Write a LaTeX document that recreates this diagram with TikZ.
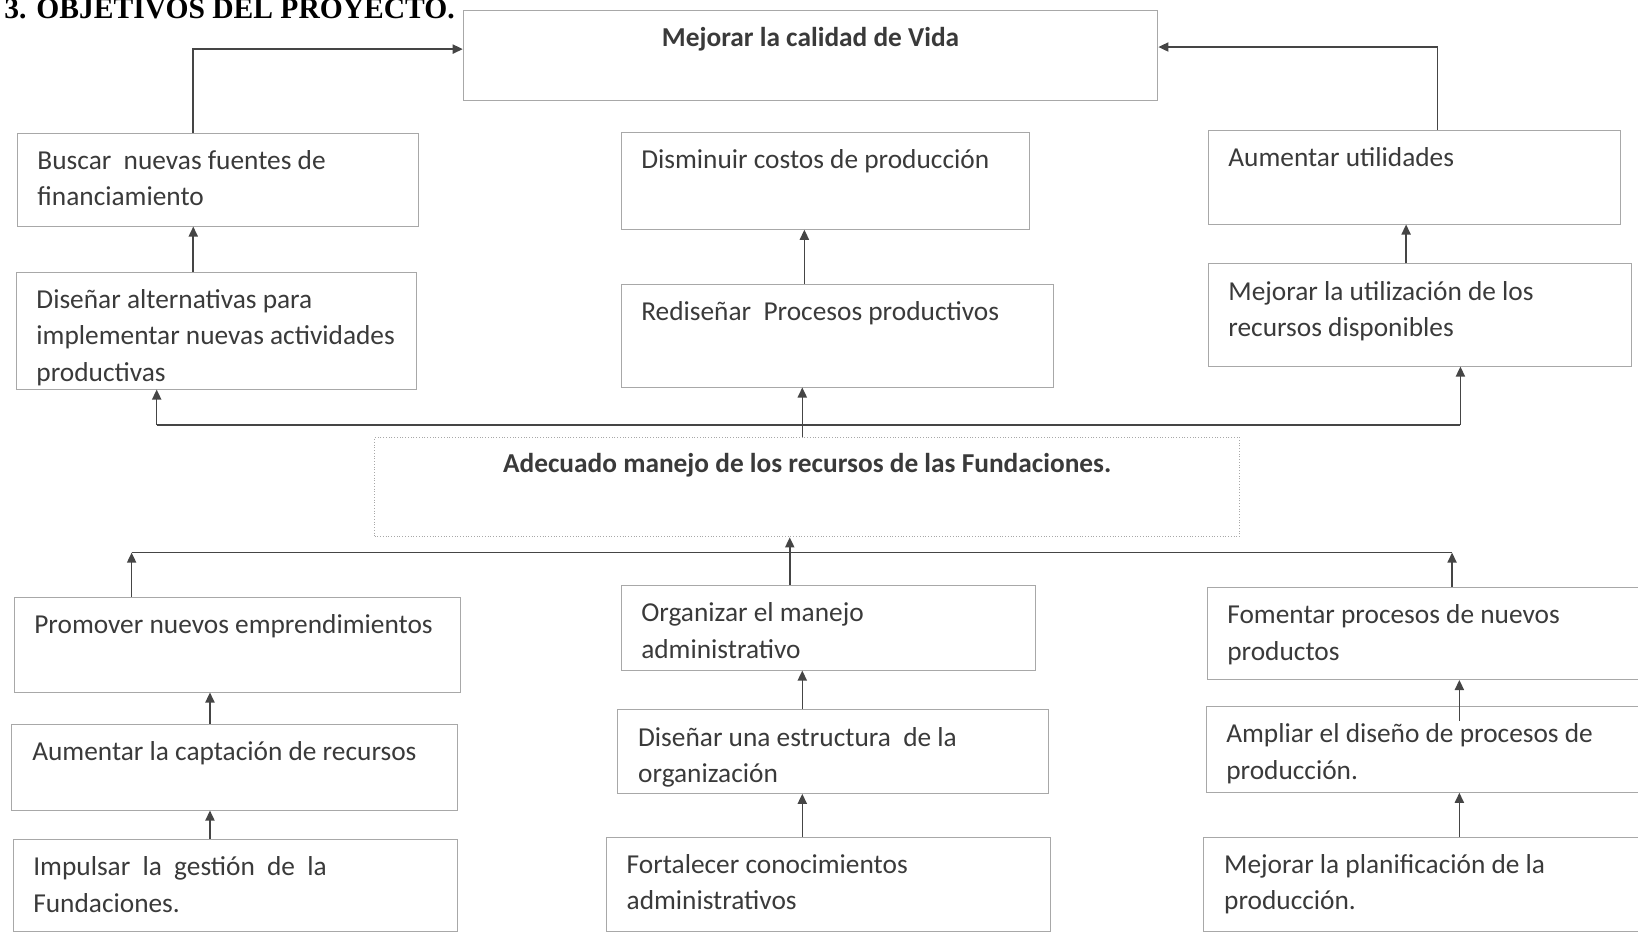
\documentclass[tikz,border=0pt]{standalone}
\usepackage{fontspec}
\setmainfont{Carlito}
\newfontfamily\titlefont{Liberation Serif}
\usetikzlibrary{arrows.meta, calc}
\definecolor{boxgray}{HTML}{A8A8A8}
\definecolor{textgray}{HTML}{3A3A3A}
\definecolor{linegray}{HTML}{454545}
\tikzset{caja/.style={draw=boxgray, line width=.5pt, inner sep=0pt, anchor=north west}}
\tikzset{texto/.style={anchor=north west, inner sep=0pt, minimum width=0pt, minimum height=0pt, align=left, text=textgray, font=\fontsize{14.9}{19.8}\selectfont}}
\tikzset{textobf/.style={texto, anchor=north, align=center, font=\bfseries\fontsize{14.9}{19.8}\selectfont}}
\tikzset{linea/.style={draw=linegray, line width=.85pt}}
\tikzset{flecha/.style={linea, -{Triangle[length=5.5pt, width=5pt]}}}
\newcommand{\objetivo}[4]{ node[caja, minimum width={#2*0.02cm}, minimum height={#3*0.02cm}, name={#1}, path picture={
  \node[texto] (#1t) at ([shift={(19,10)}]path picture bounding box.north west) {\strut #4};
}] {}}
\newcommand{\central}[5]{ node[caja, #4, minimum width={#2*0.02cm}, minimum height={#3*0.02cm}, name={#1}, path picture={
  \node[textobf] (#1t) at ([shift={(0,9)}]path picture bounding box.north) {\strut #5};
}] {}}

\begin{document}
\begin{tikzpicture}[x=0.02cm, y=-0.02cm]
  \useasboundingbox (0,0) rectangle (1568,893);

  \node[anchor=base west, font=\titlefont\bfseries\fontsize{16.1}{19}\selectfont] (titulo) at (-2,18) {3. OBJETIVOS DEL PROYECTO.};

  \path (443,10) \central{vida}{665}{86}{}{Mejorar la calidad de Vida};
  \path (358,418) \central{prop}{828}{95}{densely dotted, line width=.8pt}{Adecuado manejo de los recursos de las Fundaciones.};

  % fines
  \path (16,127) \objetivo{b1}{384}{89}{Buscar\ \ nuevas fuentes de\\financiamiento};
  \path (594,126) \objetivo{b2}{391}{93}{Disminuir costos de producción};
  \path (1156,124) \objetivo{b3}{395}{90}{Aumentar utilidades};
  \path (15,260) \objetivo{c1}{383}{112}{Diseñar alternativas para\\implementar nuevas actividades\\productivas};
  \path (594,272) \objetivo{c2}{414}{98}{Rediseñar\ \ Procesos productivos};
  \path (1156,252) \objetivo{c3}{405}{98}{Mejorar la utilización de los\\recursos disponibles};

  % medios
  \path (13,571) \objetivo{e1}{427}{91}{Promover nuevos emprendimientos};
  \path (594,560) \objetivo{e2}{397}{81}{Organizar el manejo\\administrativo};
  \path (1155,562) \objetivo{e3}{425}{88}{Fomentar procesos de nuevos\\productos};
  \path (11,693) \objetivo{f1}{426}{82}{Aumentar la captación de recursos};
  \path (591,679) \objetivo{f2}{412}{80}{Diseñar una estructura\ \ de la\\organización};
  \path (1154,676) \objetivo{f3}{426}{82}{Ampliar el diseño de procesos de\\producción.};
  \path (12,803) \objetivo{g1}{425}{88}{\makebox[5.62cm][s]{Impulsar la gestión de la}\\Fundaciones.};
  \path (580,801) \objetivo{g2}{425}{90}{Fortalecer conocimientos\\administrativos};
  \path (1152,801) \objetivo{g3}{428}{90}{Mejorar la planificación de la\\producción.};

  \coordinate (k1) at (185,47);
  \coordinate (k2) at (1376,45);
  \coordinate (k3) at (770,0);
  \coordinate (k4) at (1346,0);
  \coordinate (busl) at (150,407);
  \coordinate (busm) at (768,407);
  \coordinate (busr) at (1398,407);
  \coordinate (basel) at (126,529);
  \coordinate (basem) at (756,529);
  \coordinate (baser) at (1390,529);
  \coordinate (colA) at (201,0);
  \coordinate (colB) at (768,0);
  \coordinate (colC) at (1397,0);

  \draw[flecha] (k1 |- b1.north) |- (vida.west |- k1);
  \draw[flecha] (k2 |- b3.north) |- (vida.east |- k2);
  \draw[flecha] (k1 |- c1.north) -- (k1 |- b1.south);
  \draw[flecha] (k3 |- c2.north) -- (k3 |- b2.south);
  \draw[flecha] (k4 |- c3.north) -- (k4 |- b3.south);

  \draw[linea] (busl) -- (busr);
  \draw[flecha] (busl) -- (busl |- c1.south);
  \draw[flecha] (busm |- prop.north) -- (busm |- c2.south);
  \draw[flecha] (busr) -- (busr |- c3.south);

  \draw[linea] (basel) -- (baser);
  \draw[flecha] (basel |- e1.north) -- (basel);
  \draw[flecha] (baser |- e3.north) -- (baser);
  \draw[flecha] (basem |- e2.north) -- (basem |- prop.south);

  \draw[flecha] (colA |- f1.north) -- (colA |- e1.south);
  \draw[flecha] (colA |- g1.north) -- (colA |- f1.south);
  \draw[flecha] (colB |- f2.north) -- (colB |- e2.south);
  \draw[flecha] (colB |- g2.north) -- (colB |- f2.south);
  \draw[flecha] ($(colC |- f3.north)+(0,14)$) -- (colC |- e3.south);
  \draw[flecha] (colC |- g3.north) -- (colC |- f3.south);
\end{tikzpicture}
\end{document}
